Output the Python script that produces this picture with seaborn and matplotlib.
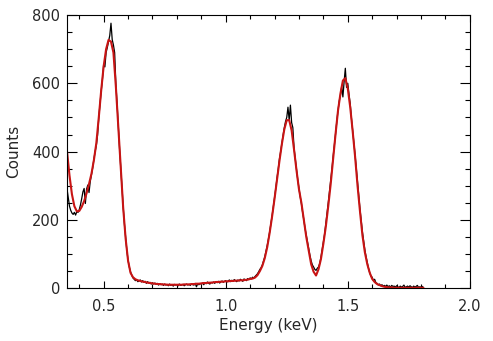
import numpy as np
import pandas as pd
import matplotlib
matplotlib.use("Agg")
import matplotlib.pyplot as plt
import seaborn as sns
from matplotlib.ticker import MultipleLocator

# measured spectrum, 0.005 keV channels starting at 0.35 keV
counts = [
    290, 265, 240, 228, 220, 216, 222, 214, 224, 222,   # 0.350
    230, 244, 262, 282, 292, 248, 290, 302, 280, 312,   # 0.400
    332, 352, 378, 400, 418, 448, 500, 540, 578, 612,   # 0.450
    655, 648, 690, 705, 722, 740, 776, 728, 712, 690,   # 0.500
    598, 540, 475, 410, 352, 290, 238, 188, 148, 110,   # 0.550
    82, 62, 48, 38, 30, 26, 22, 24, 19, 21,             # 0.600
    24, 18, 22, 17, 20, 14, 19, 15, 17, 12,             # 0.650
    16, 12, 15, 11, 14, 9, 13, 10, 12, 8,               # 0.700
    12, 9, 11, 7, 12, 8, 10, 6, 11, 9,                  # 0.750
    10, 7, 12, 8, 9, 11, 7, 10, 12, 9,                  # 0.800
    11, 8, 13, 10, 9, 14, 4, 12, 10, 13,                # 0.850
    12, 15, 10, 16, 13, 18, 14, 12, 17, 15,             # 0.900
    18, 14, 19, 16, 20, 15, 18, 21, 17, 20,             # 0.950
    22, 18, 21, 24, 19, 23, 20, 25, 22, 19,             # 1.000
    24, 21, 26, 23, 20, 27, 24, 22, 28, 25,             # 1.050
    30, 27, 32, 30, 34, 38, 42, 48, 55, 60,             # 1.100
    68, 80, 92, 108, 125, 144, 165, 188, 212, 238,      # 1.150
    264, 292, 322, 348, 378, 400, 425, 448, 470, 488,   # 1.200
    500, 530, 492, 536, 485, 470, 410, 378, 348, 318,   # 1.250
    292, 268, 248, 222, 200, 175, 155, 135, 116, 96,    # 1.300
    80, 68, 62, 55, 52, 58, 62, 72, 90, 112,            # 1.350
    135, 158, 188, 218, 250, 282, 315, 348, 385, 418,   # 1.400
    452, 488, 520, 548, 565, 590, 560, 605, 644, 588,   # 1.450
    600, 568, 540, 498, 462, 425, 390, 350, 308, 270,   # 1.500
    232, 198, 165, 138, 112, 92, 75, 58, 45, 35,        # 1.550
    32, 22, 26, 16, 14, 9, 12, 7, 10, 6,                # 1.600
    8, 5, 9, 4, 7, 3, 8, 5, 6, 3,                       # 1.650
    7, 4, 2, 6, 3, 5, 9, 2, 4, 6,                       # 1.700
    3, 7, 4, 2, 6, 3, 5, 8, 2, 4,                       # 1.750
    3, 5, 2,                                            # 1.800
]

# model fit, 0.01 keV steps starting at 0.35 keV
fit = [
    400, 330, 275, 240, 225, 226, 238, 255, 278, 305,
    335, 375, 425, 500, 580, 650, 700, 727, 722, 690,
    590, 470, 350, 235, 145, 80, 45, 32, 26, 23,
    21, 19, 18, 16, 15, 14, 13, 12, 12, 11,
    11, 10, 10, 10, 10, 10, 10, 10, 11, 11,
    11, 12, 12, 13, 13, 14, 15, 15, 16, 16,
    17, 18, 18, 19, 19, 20, 20, 21, 21, 22,
    22, 23, 23, 24, 25, 27, 28, 31, 38, 50,
    65, 88, 120, 162, 210, 262, 318, 372, 422, 465,
    492, 492, 462, 405, 345, 290, 250, 200, 150, 110,
    70, 48, 37, 55, 85, 130, 180, 240, 305, 378,
    452, 520, 570, 608, 615, 585, 530, 460, 385, 300,
    225, 155, 105, 70, 45, 27, 18, 12, 9, 6,
    4, 3, 2, 2, 1, 1,
    1, 1, 1, 1, 1, 1, 1, 1, 1, 1, 1,
]

data = pd.DataFrame({"energy": np.round(0.35 + 0.005 * np.arange(len(counts)), 3),
                     "counts": counts})
model = pd.DataFrame({"energy": np.round(0.35 + 0.01 * np.arange(len(fit)), 3),
                      "counts": fit})

sns.set_style("ticks")
plt.rcParams["font.family"] = ["DejaVu Sans"]

fig = plt.figure(figsize=(4.93, 3.41), dpi=100)
ax = fig.add_axes([0.136, 0.155, 0.817, 0.801])

sns.lineplot(data=data, x="energy", y="counts", ax=ax, color="black",
             linewidth=0.9, estimator=None)
sns.lineplot(data=model, x="energy", y="counts", ax=ax, color="#c81414",
             linewidth=1.5, estimator=None)

ax.set_xlim(0.35, 2.0)
ax.set_ylim(0, 800)
ax.xaxis.set_major_locator(MultipleLocator(0.5))
ax.xaxis.set_minor_locator(MultipleLocator(0.1))
ax.yaxis.set_major_locator(MultipleLocator(200))
ax.yaxis.set_minor_locator(MultipleLocator(50))
ax.set_xticks([0.5, 1.0, 1.5, 2.0])
ax.set_xticklabels(["0.5", "1.0", "1.5", "2.0"])

for s in ax.spines.values():
    s.set_visible(True)
    s.set_linewidth(0.8)
    s.set_color("black")

ax.tick_params(which="both", direction="in", top=True, right=True,
               width=0.8, color="black", labelsize=10.5)
ax.tick_params(axis="x", which="major", length=5, pad=8)
ax.tick_params(axis="x", which="minor", length=3)
ax.tick_params(axis="y", which="major", length=7, pad=5)
ax.tick_params(axis="y", which="minor", length=3.5)

ax.set_xlabel("Energy (keV)", fontsize=11, labelpad=3)
ax.set_ylabel("Counts", fontsize=11, labelpad=8)

fig.savefig("out.png", dpi=100)
